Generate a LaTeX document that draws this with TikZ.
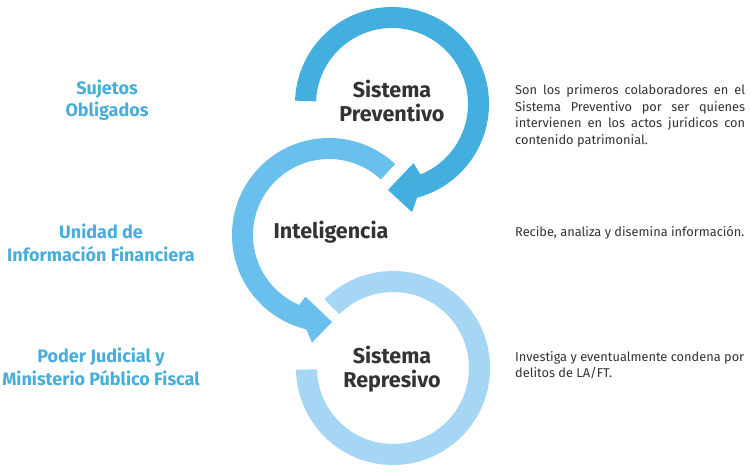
\documentclass[tikz,border=0pt]{standalone}
\usepackage{fontspec}
\setmainfont{Fira Sans}
\definecolor{topc}{HTML}{42AFDF}
\definecolor{midc}{HTML}{69C0EC}
\definecolor{botc}{HTML}{A5D7F5}
\definecolor{lblc}{HTML}{48ADDB}
\definecolor{txtc}{HTML}{333333}
\newcommand\mynohyph{\hyphenpenalty=10000 \exhyphenpenalty=10000 \relax}
\begin{document}
\begin{tikzpicture}[x=1pt,y=1pt,
  leftlbl/.style={font=\fontsize{18}{22.5}\selectfont\bfseries, text=lblc, align=center, inner sep=0pt},
  ringlbl/.style={font=\fontsize{21.5}{23.5}\selectfont\bfseries, text=txtc, align=center, inner sep=0pt},
  desc/.style={font=\fontsize{12.8}{16.5}\selectfont\mynohyph, text=txtc, inner sep=0pt}]
\useasboundingbox[fill=white] (0,0) rectangle (750,-473);
% top ring
\begin{scope}[shift={(392,-104)}]
\fill[topc] (178:97) arc[start angle=178,end angle=-75,radius=97] -- (-79.5:110) -- (-92.7:86) -- (-70:63) -- (-68:76) arc[start angle=-68,end angle=178,radius=76] -- cycle;
\end{scope}
% middle ring
\begin{scope}[shift={(329,-235)}]
\fill[midc] (47:97) arc[start angle=47,end angle=256.5,radius=97] -- (261:109) -- (272:87) -- (249:66) -- (247:76) arc[start angle=247,end angle=47,radius=76] -- cycle;
\end{scope}
% bottom ring
\begin{scope}[shift={(393,-368)}]
\fill[botc] (135:97) arc[start angle=135,end angle=-179,radius=97] -- (-179:76) arc[start angle=-179,end angle=135,radius=76] -- cycle;
\end{scope}
% ring labels
\node[ringlbl] (sp) at (392,-101) {Sistema\\Preventivo};
\node[ringlbl] (intel) at (331,-232) {Inteligencia};
\node[ringlbl] (sr) at (392,-369) {Sistema\\Represivo};
% left labels
\node[leftlbl] (so) at (107,-100) {Sujetos\\Obligados};
\node[leftlbl] (uif) at (101,-243) {Unidad de\\Información Financiera};
\node[leftlbl] (pj) at (101,-367) {Poder Judicial y\\Ministerio Público Fiscal};
% descriptions
\node[desc, text width=230pt, align=justify, anchor=west] (d1) at (515,-116) {Son los primeros colaboradores en el Sistema Preventivo por ser quienes intervienen en los actos jurídicos con contenido patrimonial.};
\node[desc, anchor=west] (d2) at (515,-233) {Recibe, analiza y disemina información.};
\node[desc, align=left, anchor=west] (d3) at (515,-365) {Investiga y eventualmente condena por\\delitos de LA/FT.};
\end{tikzpicture}
\end{document}
